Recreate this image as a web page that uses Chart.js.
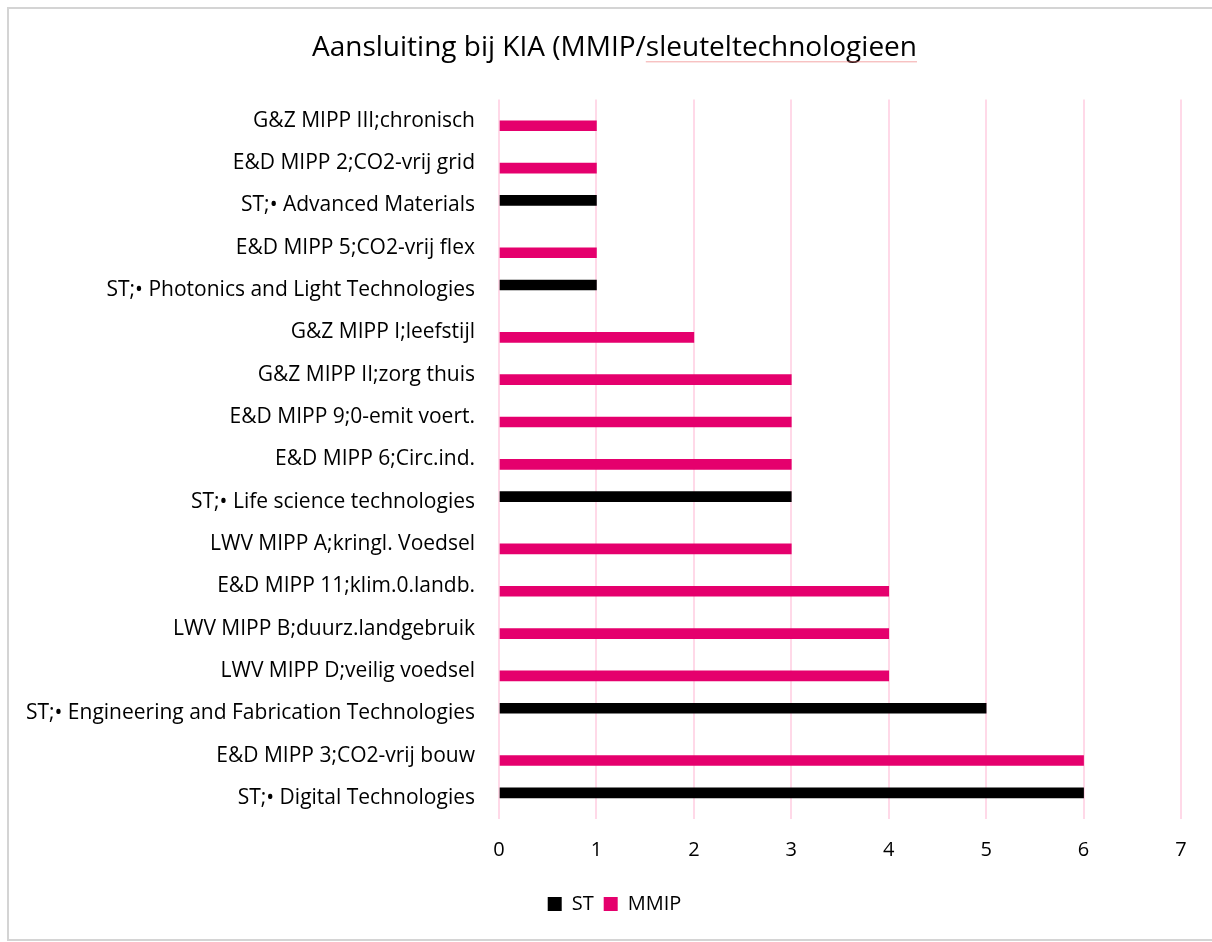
<!DOCTYPE html>
<html>
<head>
<meta charset="utf-8">
<script src="https://cdn.jsdelivr.net/npm/chart.js@4"></script>
<style>
    html, body { margin: 0; padding: 0; background: #fff; }
    #wrap { width: 1212px; height: 942px; }
</style>
</head>
<body>
<div id="wrap"><canvas id="kiaChart" width="1212" height="942"></canvas></div>
<script>
const categories = [
    "G&Z MIPP III;chronisch",
    "E&D MIPP 2;CO2-vrij grid",
    "ST;• Advanced Materials",
    "E&D MIPP 5;CO2-vrij flex",
    "ST;• Photonics and Light Technologies",
    "G&Z MIPP I;leefstijl",
    "G&Z MIPP II;zorg thuis",
    "E&D MIPP 9;0-emit voert.",
    "E&D MIPP 6;Circ.ind.",
    "ST;• Life science technologies",
    "LWV MIPP A;kringl. Voedsel",
    "E&D MIPP 11;klim.0.landb.",
    "LWV MIPP B;duurz.landgebruik",
    "LWV MIPP D;veilig voedsel",
    "ST;• Engineering and Fabrication Technologies",
    "E&D MIPP 3;CO2-vrij bouw",
    "ST;• Digital Technologies"
];
// null = no bar for that series (each category belongs to one series)
const stValues   = [null, null, 1, null, 1, null, null, null, null, 3, null, null, null, null, 5, null, 6];
const mmipValues = [1, 1, null, 1, null, 2, 3, 3, 3, null, 3, 4, 4, 4, null, 6, null];
const xTicks = [0, 1, 2, 3, 4, 5, 6, 7];

const titleText = "Aansluiting bij KIA (MMIP/sleuteltechnologieen";
const fontFamily = "'Open Sans', 'Noto Sans', sans-serif";

// grey frame, re-centred title/legend and the spellcheck line under the title
const decorations = {
    id: "decorations",
    afterLayout(chart) {
        const shift = 24;
        chart.titleBlock.left += shift;
        chart.titleBlock.right += shift;
        chart.legend.left += shift;
        chart.legend.right += shift;
    },
    beforeDraw(chart) {
        const ctx = chart.ctx;
        ctx.save();
        ctx.fillStyle = "#ffffff";
        ctx.fillRect(0, 0, chart.width, chart.height);
        ctx.strokeStyle = "#d4d4d4";
        ctx.lineWidth = 2;
        ctx.strokeRect(8, 8, chart.width + 20, chart.height - 10);
        ctx.restore();
    },
    afterDraw(chart) {
        const ctx = chart.ctx;
        const tb = chart.titleBlock;
        const opts = tb.options;
        ctx.save();
        ctx.font = opts.font.size + "px " + fontFamily;
        const full = ctx.measureText(titleText).width;
        const pre = ctx.measureText("Aansluiting bij KIA (MMIP/").width;
        const cx = (tb.left + tb.right) / 2;
        const y = tb.top + opts.padding.top + opts.font.size * 1.2 / 2 + opts.font.size * 0.5;
        ctx.strokeStyle = "rgba(235, 110, 110, 0.6)";
        ctx.lineWidth = 1;
        ctx.beginPath();
        ctx.moveTo(cx - full / 2 + pre, y);
        ctx.lineTo(cx + full / 2, y);
        ctx.stroke();
        ctx.restore();
    }
};

new Chart(document.getElementById("kiaChart"), {
    type: "bar",
    data: {
        labels: categories,
        datasets: [{
            label: "ST",
            data: stValues,
            backgroundColor: "#000000",
            barThickness: 10
        }, {
            label: "MMIP",
            data: mmipValues,
            backgroundColor: "#E5006D",
            barThickness: 10
        }]
    },
    options: {
        indexAxis: "y",
        responsive: false,
        maintainAspectRatio: false,
        animation: false,
        layout: {
            padding: { left: 0, right: 31, top: 0, bottom: 18 }
        },
        plugins: {
            title: {
                display: true,
                text: titleText,
                color: "#000000",
                font: { family: fontFamily, size: 28, weight: "normal" },
                padding: { top: 31, bottom: 35 }
            },
            legend: {
                position: "bottom",
                labels: {
                    color: "#000000",
                    font: { family: fontFamily, size: 20 },
                    boxWidth: 14,
                    boxHeight: 14,
                    padding: 10
                }
            },
            tooltip: { enabled: false }
        },
        scales: {
            x: {
                min: 0,
                max: 7,
                afterBuildTicks(scale) {
                    scale.ticks = xTicks.map(v => ({ value: v }));
                },
                afterFit(scale) {
                    scale.height = 65;
                },
                grid: {
                    color: "#FFD9E8",
                    lineWidth: 2,
                    drawTicks: false
                },
                border: { display: false },
                ticks: {
                    color: "#000000",
                    padding: 19,
                    font: { family: fontFamily, size: 20 }
                }
            },
            y: {
                afterFit(scale) {
                    scale.width = 499;
                },
                grid: { display: false, drawTicks: false },
                border: { display: false },
                ticks: {
                    color: "#000000",
                    padding: 24,
                    autoSkip: false,
                    font: { family: fontFamily, size: 21 }
                }
            }
        }
    },
    plugins: [decorations]
});
</script>
</body>
</html>
